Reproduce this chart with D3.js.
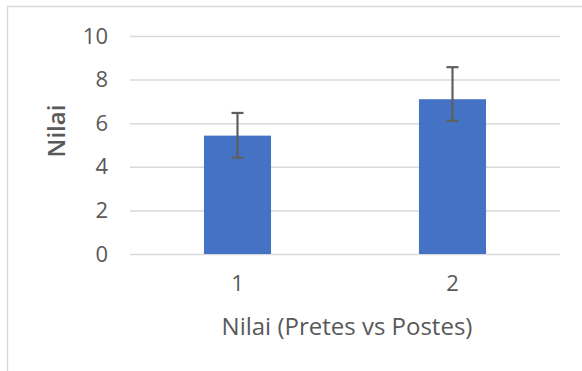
<!DOCTYPE html>
<html>
<head>
<meta charset="utf-8">
<script src="https://cdn.jsdelivr.net/npm/d3@7"></script>
<style>
	body { margin: 0; background: #fff; }
	svg { display: block; }
</style>
</head>
<body>
<div id="chart"></div>
<script>
// values
const categories = ["1", "2"];
const means = [5.43, 7.1];
const errLow = [4.42, 6.11];
const errHigh = [6.47, 8.57];
const yTicks = [0, 2, 4, 6, 8, 10];

const width = 582;
const height = 371;
const margin = { top: 36, right: 22, bottom: 117, left: 130 };
const innerWidth = width - margin.left - margin.right;
const innerHeight = height - margin.top - margin.bottom;

const data = categories.map((c, i) => ({ cat: c, mean: means[i], lo: errLow[i], hi: errHigh[i] }));

const svg = d3.select("#chart")
	.append("svg")
	.attr("width", width)
	.attr("height", height);

// chart area border (only left + top visible in the crop)
svg.append("path")
	.attr("d", `M7.5,${height} L7.5,6.5 L${width},6.5`)
	.attr("fill", "none")
	.attr("stroke", "#d9d9d9")
	.attr("stroke-width", 1.5);

const g = svg.append("g").attr("transform", `translate(${margin.left},${margin.top})`);

const x = d3.scaleBand()
	.domain(categories)
	.range([0, innerWidth])
	.paddingInner(0.688)
	.paddingOuter(0.344);

const y = d3.scaleLinear().domain([0, 10]).range([innerHeight, 0]);

// y axis with gridlines
const yAxisG = g.append("g")
	.call(d3.axisLeft(y).tickValues(yTicks).tickSizeInner(-innerWidth).tickSizeOuter(0).tickPadding(22));
yAxisG.select(".domain").remove();
yAxisG.selectAll(".tick line").attr("stroke", "#d9d9d9").attr("stroke-width", 1.5);
yAxisG.selectAll(".tick text")
	.attr("fill", "#595959")
	.style("font-family", "'Open Sans', sans-serif")
	.style("font-size", "22px");

// x axis
const xAxisG = g.append("g")
	.attr("transform", `translate(0,${innerHeight})`)
	.call(d3.axisBottom(x).tickSize(0).tickPadding(21));
xAxisG.select(".domain").remove();
xAxisG.selectAll(".tick text")
	.attr("fill", "#595959")
	.style("font-family", "'Open Sans', sans-serif")
	.style("font-size", "22px");

// bars
g.selectAll(".bar")
	.data(data)
	.join("rect")
	.attr("class", "bar")
	.attr("x", d => x(d.cat))
	.attr("y", d => y(d.mean))
	.attr("width", x.bandwidth())
	.attr("height", d => innerHeight - y(d.mean))
	.attr("fill", "#4472c4");

// error bars
const capW = 6;
const eb = g.selectAll(".err")
	.data(data)
	.join("g")
	.attr("class", "err")
	.attr("stroke", "#5f5f5f")
	.attr("stroke-width", 2.2);
eb.append("line")
	.attr("x1", d => x(d.cat) + x.bandwidth() / 2)
	.attr("x2", d => x(d.cat) + x.bandwidth() / 2)
	.attr("y1", d => y(d.lo))
	.attr("y2", d => y(d.hi));
eb.append("line")
	.attr("x1", d => x(d.cat) + x.bandwidth() / 2 - capW)
	.attr("x2", d => x(d.cat) + x.bandwidth() / 2 + capW)
	.attr("y1", d => y(d.hi))
	.attr("y2", d => y(d.hi));
eb.append("line")
	.attr("x1", d => x(d.cat) + x.bandwidth() / 2 - capW)
	.attr("x2", d => x(d.cat) + x.bandwidth() / 2 + capW)
	.attr("y1", d => y(d.lo))
	.attr("y2", d => y(d.lo));

// axis titles
g.append("text")
	.attr("x", innerWidth / 2 + 2)
	.attr("y", innerHeight + 81)
	.attr("text-anchor", "middle")
	.attr("fill", "#595959")
	.style("font-family", "'Open Sans', sans-serif")
	.style("font-size", "24px")
	.text("Nilai (Pretes vs Postes)");

g.append("text")
	.attr("transform", `translate(-65,${y(5) - 14}) rotate(-90)`)
	.attr("text-anchor", "middle")
	.attr("fill", "#595959")
	.style("font-family", "'Open Sans', sans-serif")
	.style("font-size", "24px")
	.style("font-weight", "600")
	.text("Nilai");
</script>
</body>
</html>
